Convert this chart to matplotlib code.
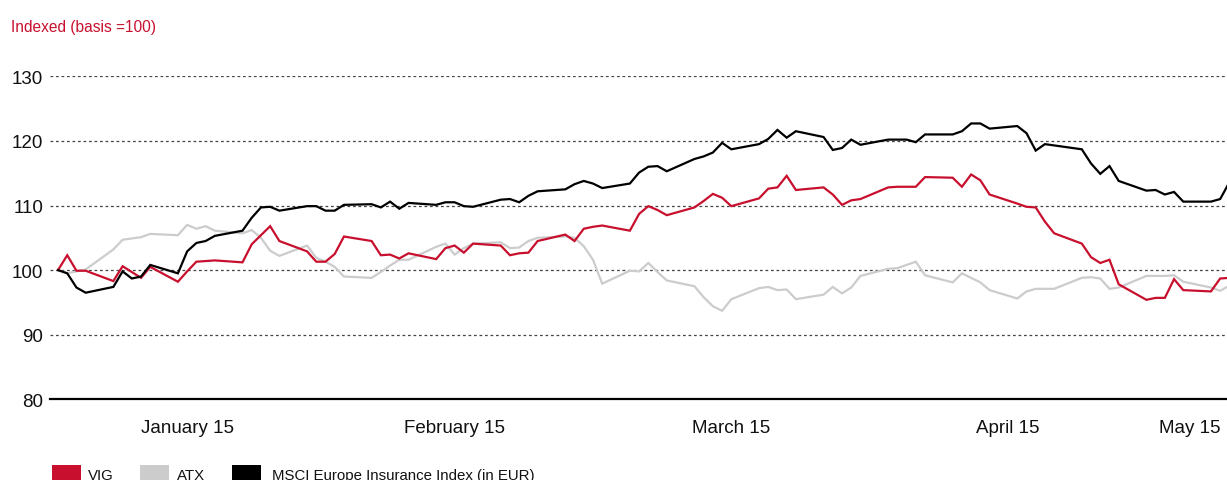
import matplotlib
matplotlib.use("Agg")
import matplotlib.pyplot as plt
import matplotlib.dates as mdates
from matplotlib import font_manager
from matplotlib.patches import Rectangle
import datetime as dt

# ---------------- data ----------------
date_strings = [
    "2014-12-30", "2014-12-31", "2015-01-01", "2015-01-02",
    "2015-01-05", "2015-01-06", "2015-01-07", "2015-01-08", "2015-01-09",
    "2015-01-12", "2015-01-13", "2015-01-14", "2015-01-15", "2015-01-16",
    "2015-01-19", "2015-01-20", "2015-01-21", "2015-01-22", "2015-01-23",
    "2015-01-26", "2015-01-27", "2015-01-28", "2015-01-29", "2015-01-30",
    "2015-02-02", "2015-02-03", "2015-02-04", "2015-02-05", "2015-02-06",
    "2015-02-09", "2015-02-10", "2015-02-11", "2015-02-12", "2015-02-13",
    "2015-02-16", "2015-02-17", "2015-02-18", "2015-02-19", "2015-02-20",
    "2015-02-23", "2015-02-24", "2015-02-25", "2015-02-26", "2015-02-27",
    "2015-03-02", "2015-03-03", "2015-03-04", "2015-03-05", "2015-03-06",
    "2015-03-09", "2015-03-10", "2015-03-11", "2015-03-12", "2015-03-13",
    "2015-03-16", "2015-03-17", "2015-03-18", "2015-03-19", "2015-03-20",
    "2015-03-23", "2015-03-24", "2015-03-25", "2015-03-26", "2015-03-27",
    "2015-03-30", "2015-03-31", "2015-04-01", "2015-04-02", "2015-04-03",
    "2015-04-06", "2015-04-07", "2015-04-08", "2015-04-09", "2015-04-10",
    "2015-04-13", "2015-04-14", "2015-04-15", "2015-04-16", "2015-04-17",
    "2015-04-20", "2015-04-21", "2015-04-22", "2015-04-23", "2015-04-24",
    "2015-04-27", "2015-04-28", "2015-04-29", "2015-04-30", "2015-05-01",
    "2015-05-04", "2015-05-05", "2015-05-06",
]

vig = [
    100.0, 102.3, 99.9, 99.9,
    98.3, 100.6, 99.7, 98.8, 100.5,
    98.2, 99.8, 101.3, 101.4, 101.5,
    101.2, 104.0, 105.4, 106.8, 104.5,
    102.9, 101.3, 101.3, 102.5, 105.2,
    104.5, 102.3, 102.4, 101.8, 102.6,
    101.7, 103.4, 103.8, 102.7, 104.1,
    103.8, 102.3, 102.6, 102.7, 104.5,
    105.5, 104.5, 106.4, 106.7, 106.9,
    106.1, 108.7, 109.9, 109.3, 108.5,
    109.7, 110.7, 111.8, 111.2, 109.9,
    111.1, 112.6, 112.8, 114.6, 112.4,
    112.8, 111.7, 110.1, 110.8, 111.0,
    112.8, 112.9, 112.9, 112.9, 114.4,
    114.3, 112.9, 114.8, 113.9, 111.7,
    110.3, 109.8, 109.7, 107.5, 105.7,
    104.1, 102.0, 101.1, 101.6, 97.8,
    95.4, 95.7, 95.7, 98.6, 96.9,
    96.7, 98.7, 98.8,
]

atx = [
    100.0, 99.5, 99.8, 100.1,
    103.2, 104.7, 104.9, 105.1, 105.6,
    105.4, 107.0, 106.4, 106.8, 106.1,
    105.7, 106.2, 105.0, 103.0, 102.2,
    103.8, 101.9, 101.3, 100.5, 99.0,
    98.8, 99.7, 100.7, 101.6, 101.6,
    103.6, 104.1, 102.4, 103.4, 104.1,
    104.3, 103.4, 103.5, 104.5, 105.0,
    105.2, 105.0, 103.7, 101.6, 97.9,
    99.9, 99.8, 101.1, 99.7, 98.4,
    97.5, 95.8, 94.4, 93.7, 95.5,
    97.2, 97.4, 96.9, 97.0, 95.5,
    96.2, 97.4, 96.4, 97.3, 99.1,
    100.2, 100.3, 100.8, 101.3, 99.2,
    98.1, 99.5, 98.8, 98.1, 96.9,
    95.6, 96.7, 97.1, 97.1, 97.1,
    98.8, 98.9, 98.7, 97.1, 97.3,
    99.1, 99.1, 99.1, 99.2, 98.2,
    97.3, 96.8, 97.6,
]

msci = [
    100.0, 99.5, 97.3, 96.5,
    97.4, 99.8, 98.7, 99.0, 100.8,
    99.5, 102.9, 104.2, 104.5, 105.3,
    106.1, 108.1, 109.7, 109.8, 109.2,
    109.9, 109.9, 109.2, 109.2, 110.1,
    110.2, 109.7, 110.6, 109.5, 110.4,
    110.1, 110.5, 110.5, 109.9, 109.8,
    110.9, 111.0, 110.5, 111.5, 112.2,
    112.5, 113.3, 113.8, 113.4, 112.7,
    113.4, 115.1, 116.0, 116.1, 115.3,
    117.2, 117.6, 118.2, 119.7, 118.7,
    119.5, 120.3, 121.7, 120.5, 121.5,
    120.6, 118.6, 118.9, 120.2, 119.4,
    120.2, 120.2, 120.2, 119.8, 121.0,
    121.0, 121.5, 122.7, 122.7, 121.9,
    122.3, 121.2, 118.5, 119.5, 119.3,
    118.7, 116.5, 114.9, 116.1, 113.8,
    112.3, 112.4, 111.7, 112.1, 110.6,
    110.6, 111.0, 113.6,
]

series_names = ["VIG", "ATX", "MSCI Europe Insurance Index (in EUR)"]
month_labels = ["January 15", "February 15", "March 15", "April 15", "May 15"]
month_label_dates = ["2015-01-13", "2015-02-11", "2015-03-13", "2015-04-12", "2015-05-05"]
y_ticks = [80, 90, 100, 110, 120, 130]

# ---------------- style ----------------
RED = "#C8102E"
GRAY = "#CCCCCC"
BLACK = "#000000"

names = {f.name for f in font_manager.fontManager.ttflist}
NARROW = "Liberation Sans Narrow" if "Liberation Sans Narrow" in names else "Liberation Sans"
REG = "Liberation Sans"
title_size = 13.5 if NARROW == "Liberation Sans Narrow" else 11.2
legend_size = 13.0 if NARROW == "Liberation Sans Narrow" else 10.8

W, H = 1227, 481
fig = plt.figure(figsize=(W / 100, H / 100), dpi=100)
ax_left, ax_right = 50 / W, 1.0
ax_bottom, ax_top = 1 - 400.3 / H, 1 - 77.3 / H
ax = fig.add_axes([ax_left, ax_bottom, ax_right - ax_left, ax_top - ax_bottom])

dates = [mdates.date2num(dt.datetime.strptime(d, "%Y-%m-%d")) for d in date_strings]

ax.plot(dates, atx, color=GRAY, lw=1.6, solid_joinstyle="miter", zorder=3)
ax.plot(dates, vig, color=RED, lw=1.6, solid_joinstyle="miter", zorder=4)
ax.plot(dates, msci, color=BLACK, lw=1.6, solid_joinstyle="miter", zorder=5)

x0 = dates[0] - 0.87
x1 = dates[-2] + 0.74
ax.set_xlim(x0, x1)
ax.set_ylim(80, 130)

for v in y_ticks[1:]:
    ax.axhline(v, color="#444444", lw=0.9, ls=(0, (2.2, 2.2)), zorder=1)

for s in ["top", "right", "left"]:
    ax.spines[s].set_visible(False)
ax.spines["bottom"].set_linewidth(1.6)
ax.spines["bottom"].set_color(BLACK)

ax.set_yticks(y_ticks)
ax.set_yticklabels([str(v) for v in y_ticks], fontfamily=REG, fontsize=13.5, color="#111111")
ax.tick_params(axis="y", length=0, pad=5)

xt = [mdates.date2num(dt.datetime.strptime(d, "%Y-%m-%d")) for d in month_label_dates]
ax.set_xticks(xt)
ax.set_xticklabels(month_labels, fontfamily=REG, fontsize=13.5, color="#111111")
ax.tick_params(axis="x", length=0, pad=14)
lbls = ax.get_xticklabels()
lbls[-1].set_ha("right")

fig.text(11 / W, 1 - 32 / H, "Indexed (basis =100)", color=RED, fontfamily=NARROW,
         fontsize=title_size, va="baseline", ha="left")

# legend
leg_items = [(RED, series_names[0], 52, 88), (GRAY, series_names[1], 140, 177), (BLACK, series_names[2], 232, 272)]
for col, name, rx, tx in leg_items:
    fig.patches.append(Rectangle((rx / W, 0), 29 / W, 15 / H, transform=fig.transFigure,
                                 facecolor=col, edgecolor="none"))
    fig.text(tx / W, 1 / H, name, color="#111111", fontfamily=NARROW, fontsize=legend_size,
             va="baseline", ha="left")

fig.savefig("out.png", dpi=100)
